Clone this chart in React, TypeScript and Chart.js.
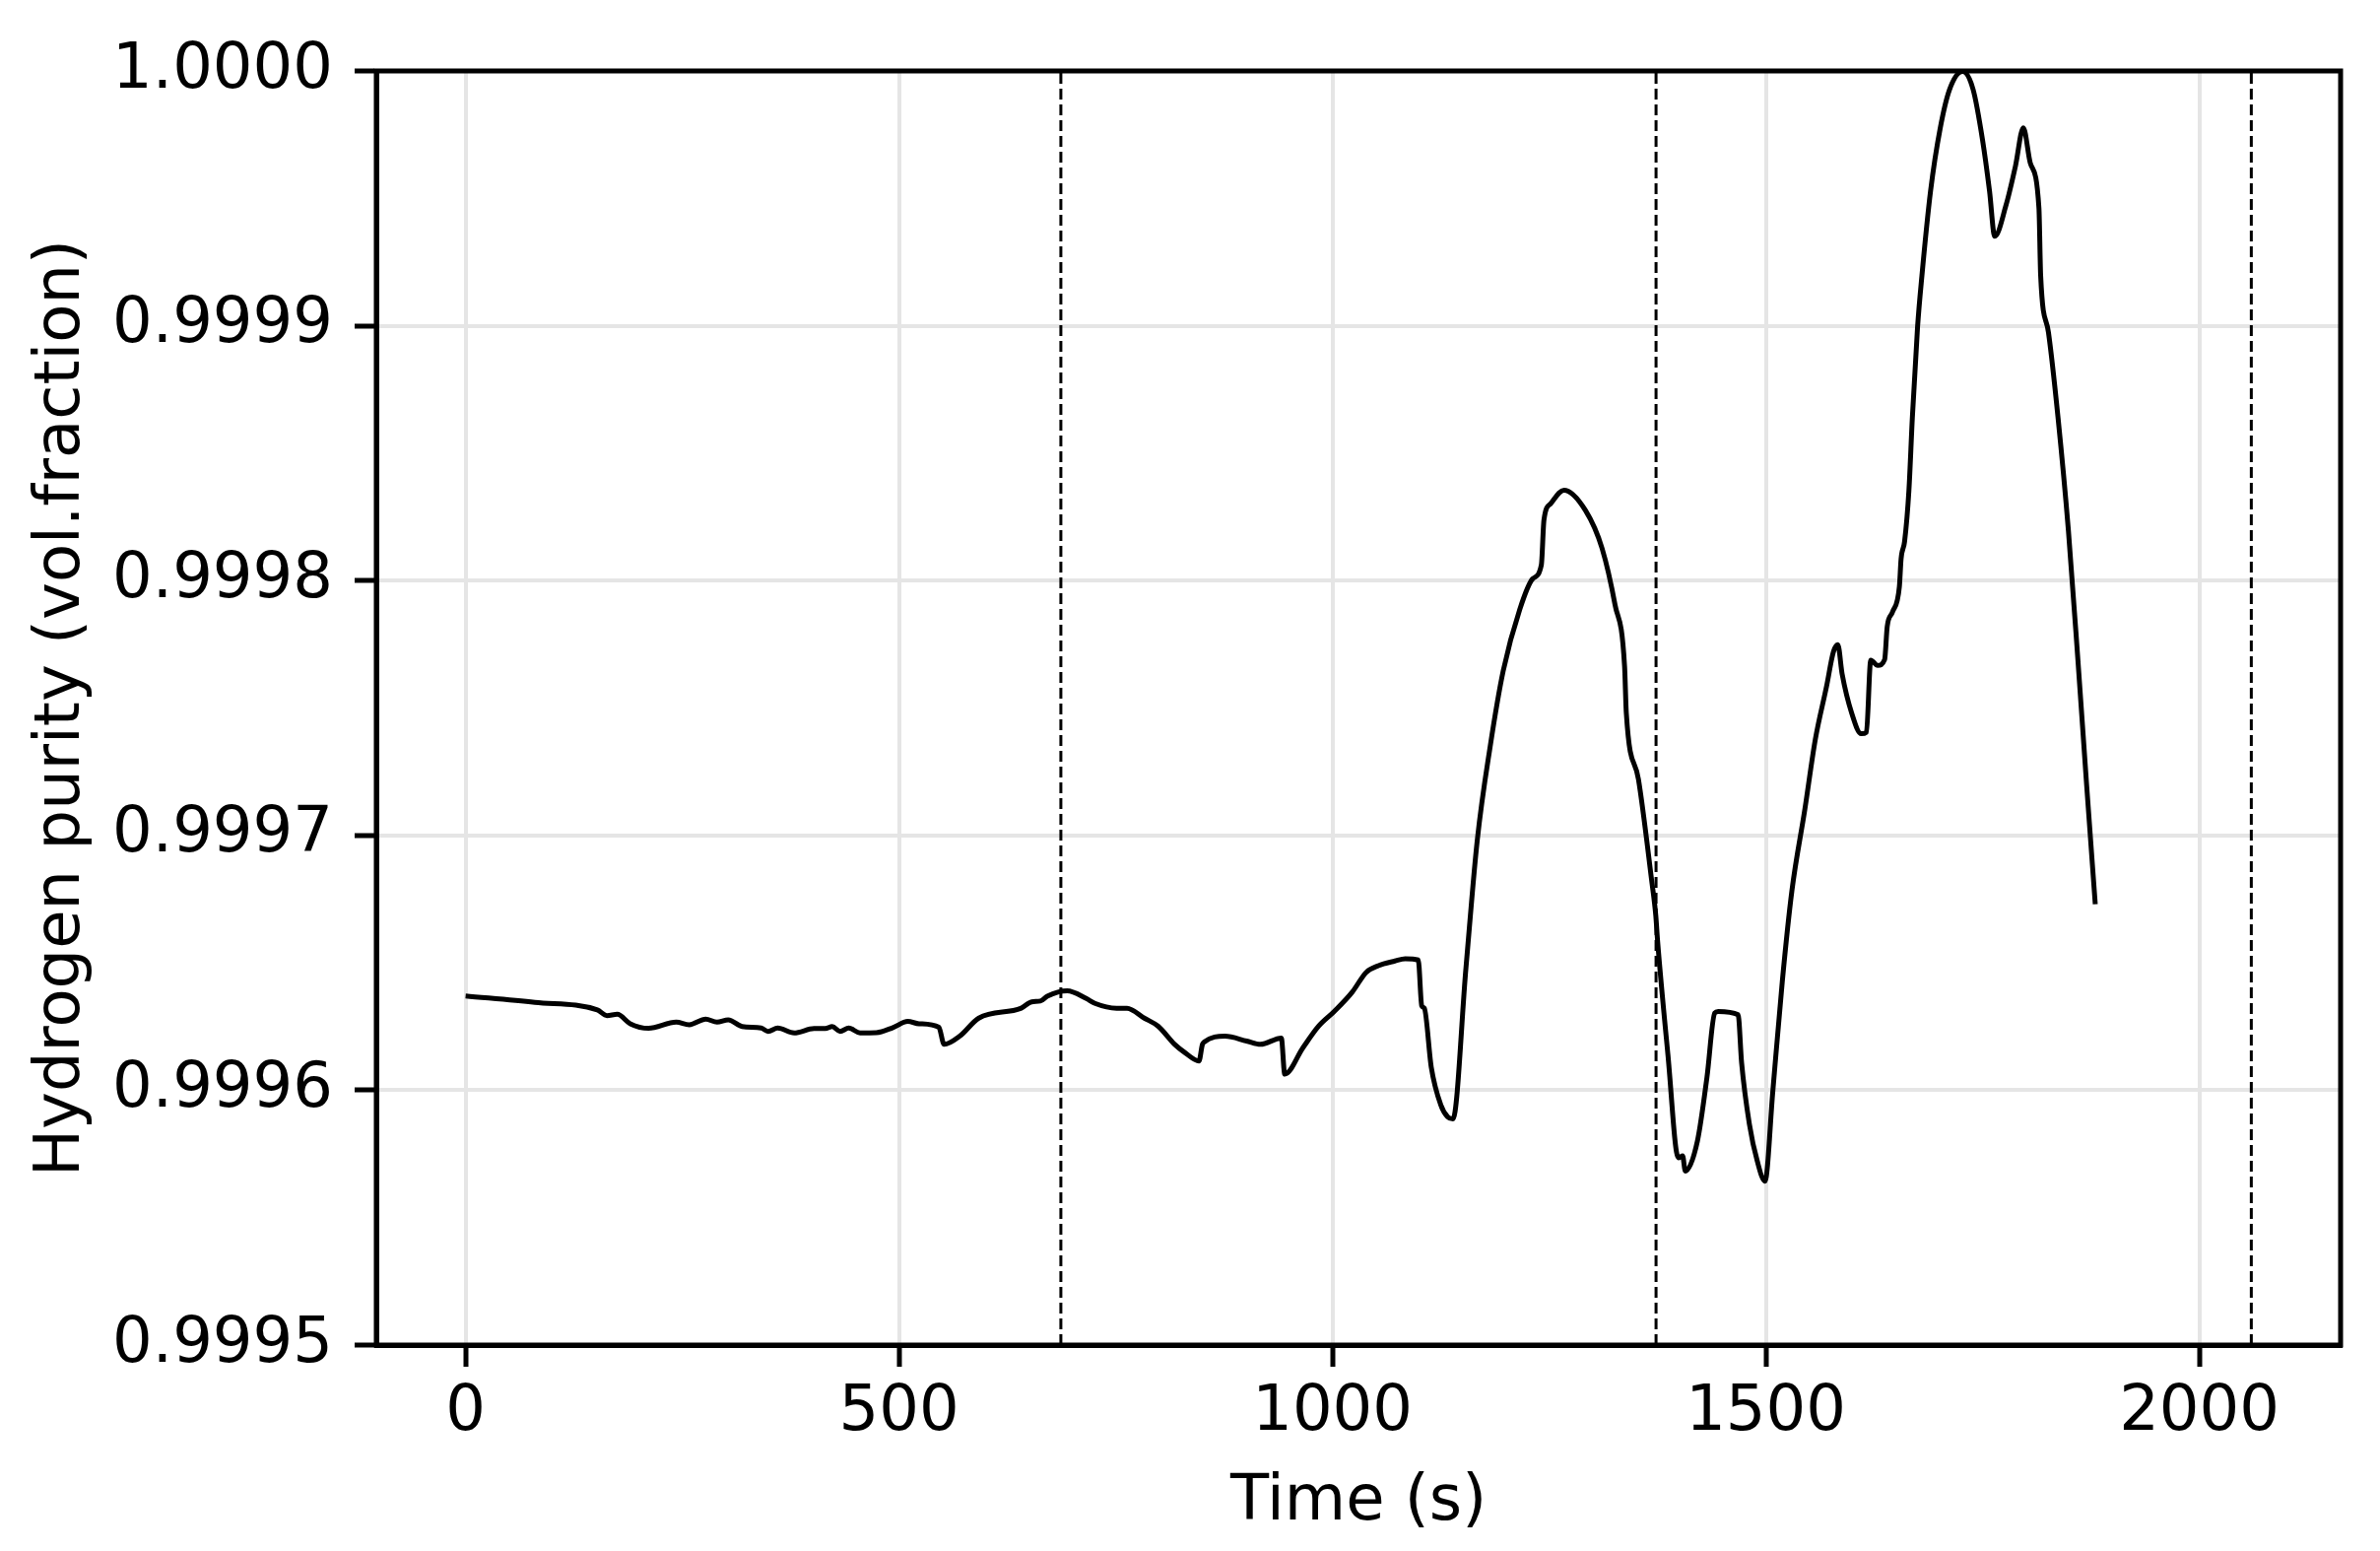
import React, { useEffect, useRef } from "react";
import { Chart, registerables } from "chart.js";

Chart.register(...registerables);

// ---- data ----
const timeS: number[] = [
  0, 80, 152, 163, 175, 190, 211, 243, 258, 277, 290, 303, 319, 341, 349, 360,
  379, 402, 415, 423, 432, 442, 455, 474, 493, 510, 523, 546, 552, 570, 592,
  641, 653, 663, 671, 694, 716, 726, 751, 763, 783, 799, 818, 830, 846, 850,
  852, 876, 901, 917, 941, 945, 966, 984, 1002, 1023, 1039, 1053, 1072, 1084,
  1099, 1103, 1106, 1114, 1125, 1133, 1139, 1154, 1167, 1182, 1197, 1216, 1231,
  1241, 1244, 1252, 1267, 1292, 1311, 1326, 1337, 1339, 1353, 1368, 1373, 1375,
  1387, 1399, 1404, 1407, 1421, 1432, 1441, 1445, 1468, 1472, 1481, 1490, 1499,
  1508, 1519, 1530, 1545, 1557, 1570, 1578, 1583, 1588, 1599, 1610, 1616, 1621,
  1629, 1637, 1640, 1646, 1654, 1656, 1660, 1665, 1669, 1675, 1680, 1690, 1701,
  1712, 1727, 1739, 1750, 1758, 1764, 1777, 1788, 1797, 1805, 1815, 1817, 1826,
  1837, 1849, 1860, 1870, 1880,
];

const purity: number[] = [
  0.999637, 0.9996345, 0.9996315, 0.9996293, 0.9996298, 0.9996261, 0.9996243,
  0.9996267, 0.9996257, 0.9996279, 0.9996267, 0.9996276, 0.999625, 0.9996244,
  0.9996231, 0.9996244, 0.9996225, 0.9996242, 0.9996242, 0.999625, 0.9996231,
  0.9996244, 0.9996225, 0.9996226, 0.9996246, 0.999627, 0.9996261, 0.9996247,
  0.999618, 0.9996212, 0.9996283, 0.9996322, 0.9996347, 0.999635, 0.9996369,
  0.999639, 0.999636, 0.9996341, 0.9996322, 0.9996322, 0.9996283, 0.9996251,
  0.999618, 0.9996147, 0.9996115, 0.999618, 0.9996189, 0.9996212, 0.9996193,
  0.999618, 0.9996205, 0.9996063, 0.9996167, 0.9996251, 0.9996309, 0.9996386,
  0.9996463, 0.9996489, 0.9996507, 0.9996516, 0.9996511, 0.9996331, 0.9996322,
  0.999609, 0.9995942, 0.9995895, 0.9995887, 0.9996479, 0.9996979, 0.999735,
  0.9997646, 0.9997886, 0.9998007, 0.9998062, 0.9998238, 0.9998303, 0.9998355,
  0.9998275, 0.9998127, 0.9997905, 0.9997664, 0.999748, 0.999722, 0.999683,
  0.9996686, 0.999659, 0.999614, 0.9995735, 0.9995742, 0.9995683, 0.99958,
  0.999605, 0.9996303, 0.9996309, 0.9996296, 0.9996108, 0.9995867, 0.9995723,
  0.9995643, 0.9995996, 0.9996429, 0.9996782, 0.9997103, 0.9997376, 0.9997585,
  0.9997721, 0.9997748, 0.9997633, 0.999748, 0.9997399, 0.9997405, 0.9997688,
  0.9997667, 0.999769, 0.999782, 0.9997876, 0.9997976, 0.9998086, 0.9998153,
  0.9998353, 0.9998641, 0.9998996, 0.9999196, 0.9999529, 0.9999773, 0.9999928,
  0.9999998, 0.9999928, 0.9999728, 0.9999529, 0.9999351, 0.9999473, 0.9999628,
  0.9999777, 0.9999639, 0.9999462, 0.9999196, 0.9998974, 0.9998641, 0.9998197,
  0.9997687, 0.9997199, 0.999673,
];

const eventTimes: number[] = [686.7, 1373.3, 2060];

const xTickValues: number[] = [0, 500, 1000, 1500, 2000];
const xTickLabels: string[] = ["0", "500", "1000", "1500", "2000"];
const yTickValues: number[] = [0.9995, 0.9996, 0.9997, 0.9998, 0.9999, 1.0];
const yTickLabels: string[] = ["0.9995", "0.9996", "0.9997", "0.9998", "0.9999", "1.0000"];

const xMin = -103;
const xMax = 2163;
const yMin = 0.9995;
const yMax = 1.0;

const xTitle = "Time (s)";
const yTitle = "Hydrogen purity (vol.fraction)";

const FONT = "'DejaVu Sans', 'Liberation Sans', sans-serif";

const framePlugin = {
  id: "frame",
  afterDraw(chart: any) {
    const { ctx, chartArea } = chart;
    ctx.save();
    ctx.strokeStyle = "#000";
    ctx.lineWidth = 5;
    ctx.strokeRect(
      chartArea.left,
      chartArea.top,
      chartArea.right - chartArea.left,
      chartArea.bottom - chartArea.top
    );
    ctx.restore();
  },
};

export default function App() {
  const canvasRef = useRef<HTMLCanvasElement | null>(null);

  useEffect(() => {
    const canvas = canvasRef.current;
    if (!canvas) return;

    const mainData = timeS.map((t, i) => ({ x: t, y: purity[i] }));
    const vlineSets = eventTimes.map((ev) => ({
      type: "line" as const,
      data: [
        { x: ev, y: yMin },
        { x: ev, y: yMax },
      ],
      borderColor: "#000",
      borderWidth: 3,
      borderDash: [11, 5],
      pointRadius: 0,
      fill: false,
      order: 2,
    }));

    const chart = new Chart(canvas, {
      type: "line",
      data: {
        datasets: [
          {
            data: mainData,
            borderColor: "#000",
            borderWidth: 5,
            pointRadius: 0,
            cubicInterpolationMode: "monotone",
            fill: false,
            borderJoinStyle: "round",
            order: 1,
          } as any,
          ...vlineSets,
        ],
      },
      options: {
        responsive: false,
        animation: false,
        devicePixelRatio: 1,
        layout: { padding: { top: 72, right: 40, bottom: 0, left: 0 } },
        plugins: {
          legend: { display: false },
          tooltip: { enabled: false },
        },
        scales: {
          x: {
            type: "linear",
            min: xMin,
            max: xMax,
            afterBuildTicks: (scale: any) => {
              scale.ticks = xTickValues.map((v) => ({ value: v }));
            },
            afterFit: (scale: any) => {
              scale.height = 209;
            },
            ticks: {
              color: "#000",
              font: { family: FONT, size: 64 },
              padding: 9,
              maxRotation: 0,
              autoSkip: false,
              callback: (value: any) => {
                const i = xTickValues.indexOf(Number(value));
                return i >= 0 ? xTickLabels[i] : "";
              },
            },
            grid: {
              color: "#e5e5e5",
              lineWidth: 4,
              tickColor: "#000",
              tickWidth: 5,
              tickLength: 22,
            },
            border: { display: true, color: "#000", width: 5 },
            title: {
              display: true,
              text: xTitle,
              color: "#000",
              font: { family: FONT, size: 64 },
              padding: { top: 0, bottom: 10 },
            },
          },
          y: {
            type: "linear",
            min: yMin,
            max: yMax,
            afterBuildTicks: (scale: any) => {
              scale.ticks = yTickValues.map((v) => ({ value: v }));
            },
            afterFit: (scale: any) => {
              scale.width = 382;
            },
            ticks: {
              color: "#000",
              font: { family: FONT, size: 64 },
              padding: 22,
              autoSkip: false,
              callback: (value: any) => {
                const v = Number(value);
                let best = 0;
                for (let i = 1; i < yTickValues.length; i++) {
                  if (Math.abs(yTickValues[i] - v) < Math.abs(yTickValues[best] - v)) best = i;
                }
                return yTickLabels[best];
              },
            },
            grid: {
              color: "#e5e5e5",
              lineWidth: 4,
              tickColor: "#000",
              tickWidth: 5,
              tickLength: 22,
            },
            border: { display: true, color: "#000", width: 5 },
            title: {
              display: true,
              text: yTitle,
              color: "#000",
              font: { family: FONT, size: 64 },
              padding: { top: 25, bottom: 0 },
            },
          },
        },
      },
      plugins: [framePlugin],
    } as any);

    return () => {
      chart.destroy();
    };
  }, []);

  return (
    <div
      style={{
        position: "fixed",
        left: 0,
        top: 0,
        width: 2416,
        height: 1574,
        background: "#fff",
      }}
    >
      <canvas
        ref={canvasRef}
        width={2416}
        height={1574}
        style={{ display: "block", width: 2416, height: 1574 }}
      />
    </div>
  );
}
